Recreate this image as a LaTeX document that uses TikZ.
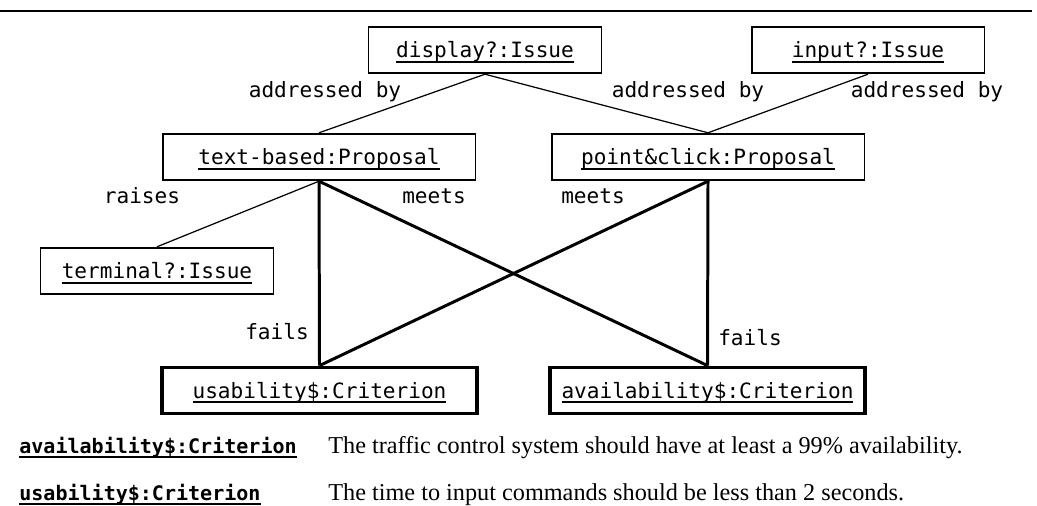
\documentclass[tikz,border=0pt]{standalone}
\usepackage{fontspec}
\setmainfont{Liberation Serif}
\setmonofont{DejaVu Sans Mono}
\newcommand{\uname}[1]{\setbox0=\hbox{#1}\leavevmode\rlap{\rule[-2.8pt]{\wd0}{1.1pt}}\box0}

\begin{document}
\begin{tikzpicture}[x=0.02cm, y=-0.02cm,
    obj/.style={draw, line width=1.1pt, minimum height=0.93cm, inner sep=0pt,
      text height=9pt, text depth=0pt,
      font=\ttfamily\fontsize{12}{14}\selectfont},
    issue/.style={obj, minimum width=4.66cm},
    proposal/.style={obj, minimum width=6.26cm},
    criterion/.style={obj, line width=1.9pt, minimum width=6.3cm},
    role/.style={anchor=base, inner sep=0pt, font=\ttfamily\fontsize{12}{14}\selectfont},
    thinlink/.style={line width=0.7pt},
    thicklink/.style={line width=1.7pt},
    legendname/.style={anchor=base west, inner sep=0pt, font=\ttfamily\bfseries\fontsize{11.4}{14}\selectfont},
    legendtext/.style={anchor=base west, inner sep=0pt, font=\fontsize{13.8}{16}\selectfont}]
    \useasboundingbox (0,0) rectangle (1037,506);

    % --- rule across the top ---
    \draw[line width=1.7pt] (0,11) -- (1032,11);

    % --- issues and proposals ---
    \node[issue] (display) at (485,50) {\uname{display?:Issue}};
    \node[issue] (input) at (868,50) {\uname{input?:Issue}};
    \node[proposal] (textbased) at (319,157) {\uname{text-based:Proposal}};
    \node[proposal] (pointclick) at (708,157) {\uname{point\&click:Proposal}};
    \node[issue] (terminal) at (157,271) {\uname{terminal?:Issue}};

    % --- criteria ---
    \node[criterion] (usability) at (319.5,390.5) {\uname{usability\$:Criterion}};
    \node[criterion] (availability) at (707.5,390.5) {\uname{availability\$:Criterion}};

    % --- links ---
    \draw[thinlink] (display.south) -- (textbased.north);
    \draw[thinlink] (display.south) -- (pointclick.north);
    \draw[thinlink] (input.south) -- (pointclick.north);
    \draw[thinlink] (textbased.south) -- (terminal.north);
    \draw[thicklink] (textbased.south) -- (usability.north);
    \draw[thicklink] (textbased.south) -- (availability.north);
    \draw[thicklink] (pointclick.south) -- (usability.north);
    \draw[thicklink] (pointclick.south) -- (availability.north);

    % --- link roles ---
    \node[role] (addr1) at (325,98) {addressed by};
    \node[role] (addr2) at (688,98) {addressed by};
    \node[role] (addr3) at (927,98) {addressed by};
    \node[role] (raises) at (142,204) {raises};
    \node[role] (meets1) at (434,204) {meets};
    \node[role] (meets2) at (593,204) {meets};
    \node[role] (fails1) at (277,339) {fails};
    \node[role] (fails2) at (750,345) {fails};

    % --- legend ---
    \node[legendname] (availname) at (19,453) {\uname{availability\$:Criterion}};
    \node[legendtext] (availtext) at (328,453) {The traffic control system should have at least a 99\% availability.};
    \node[legendname] (usename) at (19,500) {\uname{usability\$:Criterion}};
    \node[legendtext] (usetext) at (328,500) {The time to input commands should be less than 2 seconds.};
\end{tikzpicture}
\end{document}
